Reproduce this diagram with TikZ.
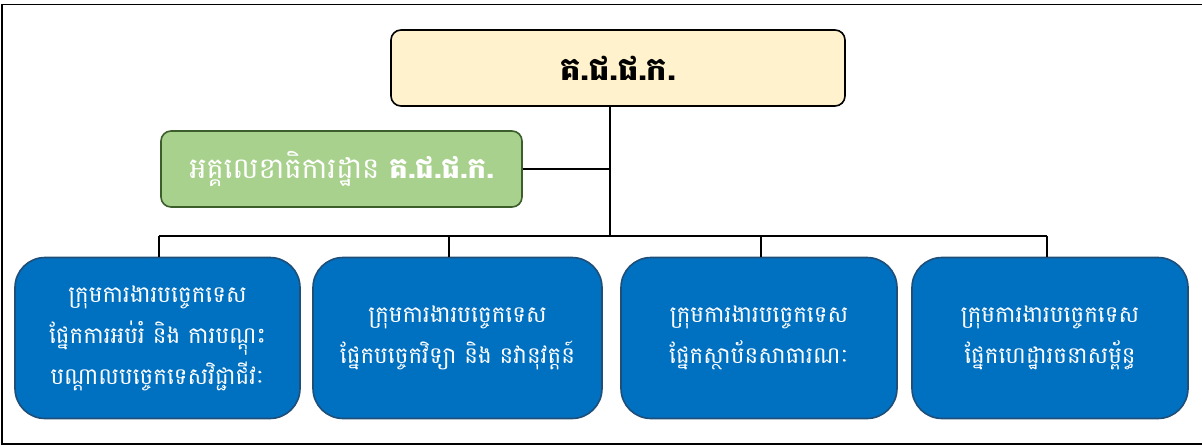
\documentclass[tikz,border=0pt]{standalone}
\usepackage{fontspec}
\newfontfamily\kh[Script=Khmer]{Battambang}
\usetikzlibrary{calc}
\definecolor{topfill}{HTML}{FFF2CC}
\definecolor{greenfill}{HTML}{A9D18E}
\definecolor{greenline}{HTML}{3B5E2B}
\definecolor{bluefill}{HTML}{0070C0}
\definecolor{blueline}{HTML}{1F4E79}
\begin{document}
\begin{tikzpicture}[x=1pt,y=-1pt,
  topbox/.style={draw=black, line width=1.6pt, fill=topfill, rounded corners=10pt,
    minimum width=454pt, minimum height=76pt, inner sep=0pt,
    font=\kh\bfseries\fontsize{32}{36}\selectfont},
  greenbox/.style={draw=greenline, line width=1.6pt, fill=greenfill, rounded corners=10pt,
    minimum width=361pt, minimum height=76pt, inner sep=0pt, text=white,
    font=\kh\fontsize{29}{32}\selectfont},
  bluebox/.style={draw=blueline, line width=1.6pt, fill=bluefill, rounded corners=30pt,
    minimum height=161pt, inner sep=0pt, text=white, align=center,
    font=\kh\fontsize{23}{41}\selectfont},
  conn/.style={draw=black, line width=1.5pt}]
\useasboundingbox (0,0) rectangle (1202,447);
\draw[line width=1.5pt] (2,4.5) rectangle (1206,444);

\node[topbox] (top) at (618,68) {គ.ជ.ផ.ក.};
\node[greenbox] (green) at (341.5,169) {អគ្គលេខាធិការដ្ឋាន {\bfseries គ.ជ.ផ.ក.}};

\node[bluebox, minimum width=285pt] (b1) at (157.5,338) {ក្រុមការងារបច្ចេកទេស\\ផ្នែកការអប់រំ និង ការបណ្ដុះ\\បណ្ដាលបច្ចេកទេសវិជ្ជាជីវៈ};
\node[bluebox, minimum width=289pt] (b2) at (457.5,338) {ក្រុមការងារបច្ចេកទេស\\ផ្នែកបច្ចេកវិទ្យា និង នវានុវត្តន៍};
\node[bluebox, minimum width=276pt] (b3) at (759,338) {ក្រុមការងារបច្ចេកទេស\\ផ្នែកស្ថាប័នសាធារណៈ};
\node[bluebox, minimum width=276pt] (b4) at (1050,338) {ក្រុមការងារបច្ចេកទេស\\ផ្នែកហេដ្ឋារចនាសម្ព័ន្ធ};

\coordinate (hub) at (610,236);
\coordinate (d1) at (159,236);
\coordinate (d2) at (449,236);
\coordinate (d3) at (761,236);
\coordinate (d4) at (1047,236);

\draw[conn] (top.south -| hub) -- (hub);
\draw[conn] (green.east) -- (green.east -| hub);
\draw[conn] (d1) -- (d4);
\draw[conn] (d1) -- (d1 |- b1.north);
\draw[conn] (d2) -- (d2 |- b2.north);
\draw[conn] (d3) -- (d3 |- b3.north);
\draw[conn] (d4) -- (d4 |- b4.north);
\end{tikzpicture}
\end{document}
